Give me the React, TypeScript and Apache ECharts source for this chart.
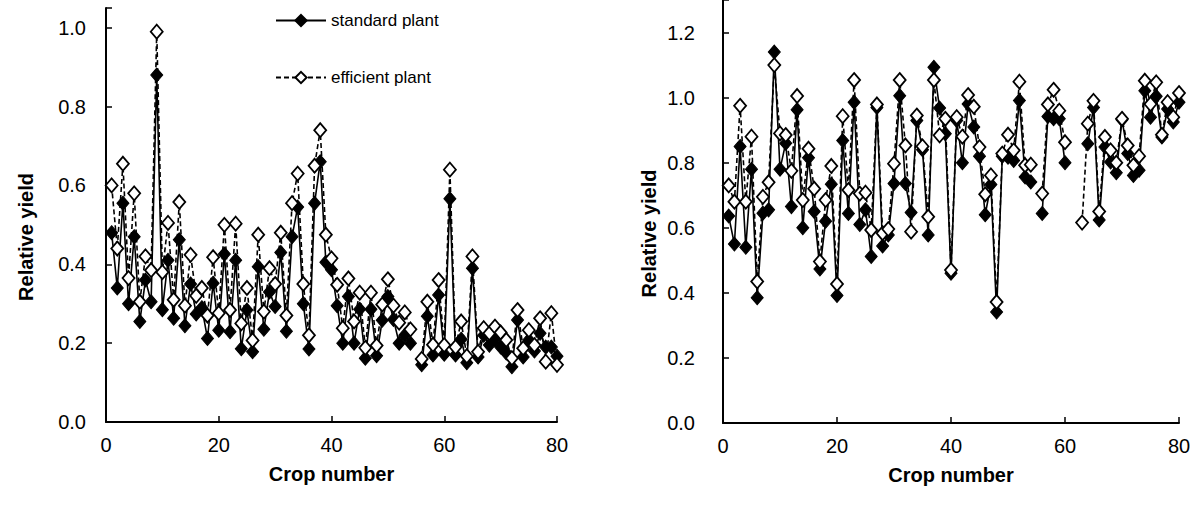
import React, { useEffect, useRef } from "react";
import * as echarts from "echarts";

const crops: number[] = Array.from({ length: 80 }, (_, i) => i + 1);

const leftStandard: (number | null)[] = [
  0.48, 0.34, 0.555, 0.30, 0.47, 0.255, 0.36, 0.305, 0.88, 0.285,
  0.41, 0.263, 0.462, 0.244, 0.35, 0.274, 0.29, 0.212, 0.352, 0.233,
  0.426, 0.229, 0.41, 0.186, 0.284, 0.178, 0.394, 0.235, 0.33, 0.293,
  0.43, 0.23, 0.47, 0.545, 0.30, 0.185, 0.555, 0.66, 0.405, 0.386,
  0.295, 0.20, 0.318, 0.20, 0.286, 0.162, 0.286, 0.168, 0.258, 0.318,
  0.26, 0.20, 0.22, 0.20, null, 0.145, 0.268, 0.17, 0.322, 0.172,
  0.566, 0.17, 0.21, 0.15, 0.39, 0.165, 0.22, 0.195, 0.21, 0.19,
  0.175, 0.14, 0.259, 0.165, 0.208, 0.18, 0.225, 0.19, 0.19, 0.167,
];

const leftEfficient: (number | null)[] = [
  0.60, 0.44, 0.655, 0.365, 0.58, 0.305, 0.42, 0.385, 0.99, 0.38,
  0.505, 0.31, 0.558, 0.295, 0.424, 0.32, 0.34, 0.27, 0.418, 0.276,
  0.50, 0.284, 0.503, 0.25, 0.34, 0.207, 0.475, 0.28, 0.39, 0.35,
  0.48, 0.27, 0.555, 0.63, 0.35, 0.22, 0.65, 0.74, 0.475, 0.415,
  0.348, 0.238, 0.364, 0.255, 0.328, 0.188, 0.328, 0.194, 0.298, 0.362,
  0.295, 0.252, 0.278, 0.235, null, 0.16, 0.305, 0.196, 0.36, 0.195,
  0.64, 0.19, 0.255, 0.167, 0.42, 0.178, 0.238, 0.225, 0.242, 0.227,
  0.208, 0.162, 0.284, 0.187, 0.233, 0.195, 0.263, 0.153, 0.276, 0.145,
];

const rightStandard: (number | null)[] = [
  0.636, 0.55, 0.85, 0.54, 0.78, 0.385, 0.645, 0.655, 1.14, 0.78,
  0.86, 0.665, 0.963, 0.60, 0.815, 0.65, 0.473, 0.62, 0.734, 0.392,
  0.868, 0.644, 0.986, 0.61, 0.655, 0.512, 0.97, 0.544, 0.578, 0.736,
  1.006, 0.736, 0.647, 0.93, 0.84, 0.578, 1.093, 0.968, 0.889, 0.46,
  0.93, 0.80, 0.98, 0.91, 0.82, 0.64, 0.733, 0.341, 0.82, 0.817,
  0.807, 0.991, 0.756, 0.741, null, 0.644, 0.942, 0.935, 0.935, 0.80,
  null, null, null, 0.858, 0.97, 0.624, 0.848, 0.802, 0.769, 0.932,
  0.828, 0.761, 0.777, 1.021, 0.94, 1.004, 0.879, 0.965, 0.925, 0.986,
];

const rightEfficient: (number | null)[] = [
  0.73, 0.68, 0.975, 0.68, 0.88, 0.435, 0.695, 0.74, 1.10, 0.89,
  0.885, 0.775, 1.005, 0.685, 0.843, 0.72, 0.496, 0.685, 0.79, 0.427,
  0.943, 0.716, 1.054, 0.705, 0.708, 0.593, 0.979, 0.583, 0.596, 0.797,
  1.054, 0.853, 0.588, 0.945, 0.85, 0.634, 1.054, 0.884, 0.935, 0.47,
  0.94, 0.88, 1.008, 0.972, 0.848, 0.703, 0.761, 0.372, 0.828, 0.886,
  0.838, 1.049, 0.792, 0.794, null, 0.705, 0.979, 1.024, 0.96, 0.863,
  null, null, 0.616, 0.92, 0.99, 0.65, 0.879, 0.838, 0.80, 0.935,
  0.853, 0.792, 0.82, 1.052, 0.98, 1.047, 0.886, 0.986, 0.94, 1.014,
];

const seriesNames = ["standard plant", "efficient plant"];

const FONT = "'Liberation Sans', Arial, Helvetica, sans-serif";

function pairs(vals: (number | null)[]) {
  return crops.map((c, i) => [c, vals[i] === null ? "-" : vals[i]]);
}

export default function App() {
  const ref = useRef<HTMLDivElement>(null);
  useEffect(() => {
    if (!ref.current) return;
    const chart = echarts.init(ref.current, undefined, { renderer: "svg" });
    const axisLine = { show: true, lineStyle: { color: "#000", width: 2 } };
    const axisTick = { show: true, inside: true, length: 6, lineStyle: { color: "#000", width: 1.5 } };
    const labelStyle = { color: "#000", fontSize: 20, fontFamily: FONT };
    const nameStyle = { color: "#000", fontSize: 20, fontWeight: "bold" as const, fontFamily: FONT };
    const yNameStyle = { ...nameStyle, padding: [0, 44, 0, 0] };
    const xAxisBase = (gi: number) => ({
      type: "value",
      gridIndex: gi,
      min: 0,
      max: 80,
      interval: 20,
      name: "Crop number",
      nameLocation: "middle",
      nameGap: 42,
      nameTextStyle: nameStyle,
      axisLine,
      axisTick,
      splitLine: { show: false },
      axisLabel: { ...labelStyle, margin: 13 },
    });
    const solid = (gi: number, vals: (number | null)[]) => ({
      name: seriesNames[0],
      type: "line",
      xAxisIndex: gi,
      yAxisIndex: gi,
      data: pairs(vals),
      symbol: "diamond",
      symbolSize: [12, 14],
      lineStyle: { color: "#000", width: 1.6, type: "solid" },
      itemStyle: { color: "#000", borderColor: "#000", borderWidth: 1 },
      connectNulls: false,
      z: 2,
    });
    const dashed = (gi: number, vals: (number | null)[]) => ({
      name: seriesNames[1],
      type: "line",
      xAxisIndex: gi,
      yAxisIndex: gi,
      data: pairs(vals),
      symbol: "diamond",
      symbolSize: [12, 14],
      showAllSymbol: true,
      lineStyle: { color: "#000", width: 1.6, type: [5, 3] },
      itemStyle: { color: "#fff", borderColor: "#000", borderWidth: 1.8 },
      connectNulls: false,
      z: 3,
    });
    chart.setOption({
      animation: false,
      backgroundColor: "#fff",
      legend: {
        data: seriesNames,
        orient: "vertical",
        left: 270,
        top: 7,
        itemGap: 40,
        itemWidth: 50,
        itemHeight: 14,
        textStyle: { color: "#000", fontSize: 17, fontFamily: FONT },
      },
      grid: [
        { left: 106, right: 642, top: 8, bottom: 83 },
        { left: 723, right: 20, top: 0, bottom: 82 },
      ],
      xAxis: [xAxisBase(0), xAxisBase(1)],
      yAxis: [
        {
          type: "value",
          gridIndex: 0,
          min: 0,
          max: 1.05,
          interval: 0.2,
          name: "Relative yield",
          nameLocation: "middle",
          nameGap: 70,
          nameTextStyle: yNameStyle,
          axisLine,
          axisTick,
          splitLine: { show: false },
          axisLabel: { ...labelStyle, margin: 20, formatter: (v: number) => (v > 1.01 ? "" : v.toFixed(1)) },
        },
        {
          type: "value",
          gridIndex: 1,
          min: 0,
          max: 1.3,
          interval: 0.2,
          name: "Relative yield",
          nameLocation: "middle",
          nameGap: 64,
          nameTextStyle: yNameStyle,
          axisLine,
          axisTick,
          splitLine: { show: false },
          axisLabel: { ...labelStyle, margin: 28, formatter: (v: number) => (v > 1.21 ? "" : v.toFixed(1)) },
        },
      ],
      series: [
        solid(0, leftStandard),
        dashed(0, leftEfficient),
        solid(1, rightStandard),
        dashed(1, rightEfficient),
      ],
    });
    return () => chart.dispose();
  }, []);
  return <div ref={ref} style={{ width: 1199, height: 505, position: "absolute", left: 0, top: 0 }} />;
}
